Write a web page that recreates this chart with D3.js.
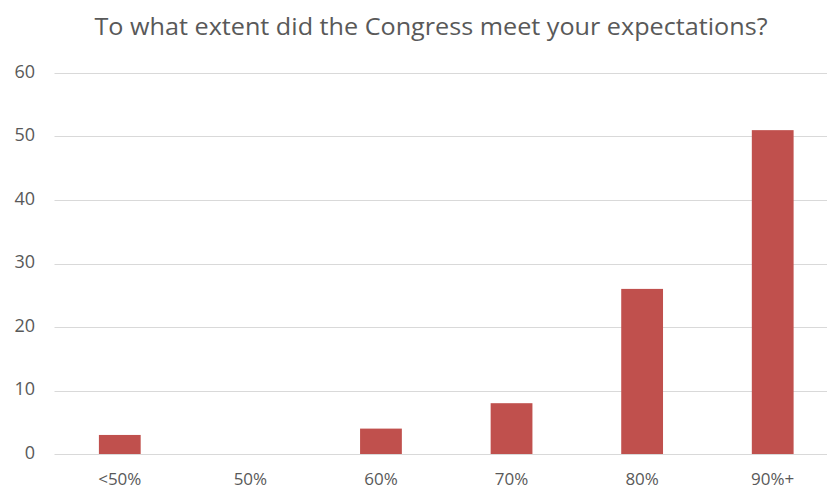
<!DOCTYPE html>
<html>
<head>
<meta charset="utf-8">
<script src="https://cdn.jsdelivr.net/npm/d3@7"></script>
<style>
  body { margin: 0; background: #fff; }
  svg { display: block; font-family: "Open Sans", "Noto Sans", sans-serif; }
</style>
</head>
<body>
<script>
var categories = ["<50%", "50%", "60%", "70%", "80%", "90%+"];
var counts = [3, 0, 4, 8, 26, 51];
var yTicks = [0, 10, 20, 30, 40, 50, 60];

var width = 827, height = 490;
var margin = { top: 73, right: -11, bottom: 36, left: 54.5 };

var svg = d3.select("body").append("svg")
    .attr("width", width)
    .attr("height", height);

var x = d3.scaleBand()
    .domain(categories)
    .range([margin.left, width - margin.right])
    .paddingInner(0.68)
    .paddingOuter(0.34);

var y = d3.scaleLinear()
    .domain([0, 60])
    .range([height - margin.bottom, margin.top]);

// title
svg.append("text")
    .attr("x", 431)
    .attr("y", 35)
    .attr("text-anchor", "middle")
    .attr("fill", "#595959")
    .style("font-size", "23px")
    .attr("textLength", 673)
    .attr("lengthAdjust", "spacingAndGlyphs")
    .text("To what extent did the Congress meet your expectations?");

// gridlines
svg.append("g")
    .selectAll("line")
    .data(yTicks)
    .enter().append("line")
    .attr("x1", margin.left)
    .attr("x2", width - margin.right)
    .attr("y1", function(d) { return Math.round(y(d)) + 0.5; })
    .attr("y2", function(d) { return Math.round(y(d)) + 0.5; })
    .attr("stroke", "#d9d9d9")
    .attr("stroke-width", 1);

// y labels
svg.append("g")
    .selectAll("text")
    .data(yTicks)
    .enter().append("text")
    .attr("x", 35)
    .attr("y", function(d) { return y(d) + 4.5; })
    .attr("text-anchor", "end")
    .attr("fill", "#595959")
    .style("font-size", "18px")
    .text(function(d) { return d; });

// bars
svg.append("g")
    .selectAll("rect")
    .data(counts)
    .enter().append("rect")
    .attr("x", function(d, i) { return x(categories[i]); })
    .attr("width", x.bandwidth())
    .attr("y", function(d) { return y(d); })
    .attr("height", function(d) { return y(0) - y(d); })
    .attr("fill", "#c0504d");

// x labels
svg.append("g")
    .selectAll("text")
    .data(categories)
    .enter().append("text")
    .attr("x", function(d) { return x(d) + x.bandwidth() / 2; })
    .attr("y", 485)
    .attr("text-anchor", "middle")
    .attr("fill", "#595959")
    .style("font-size", "17px")
    .text(function(d) { return d; });
</script>
</body>
</html>
